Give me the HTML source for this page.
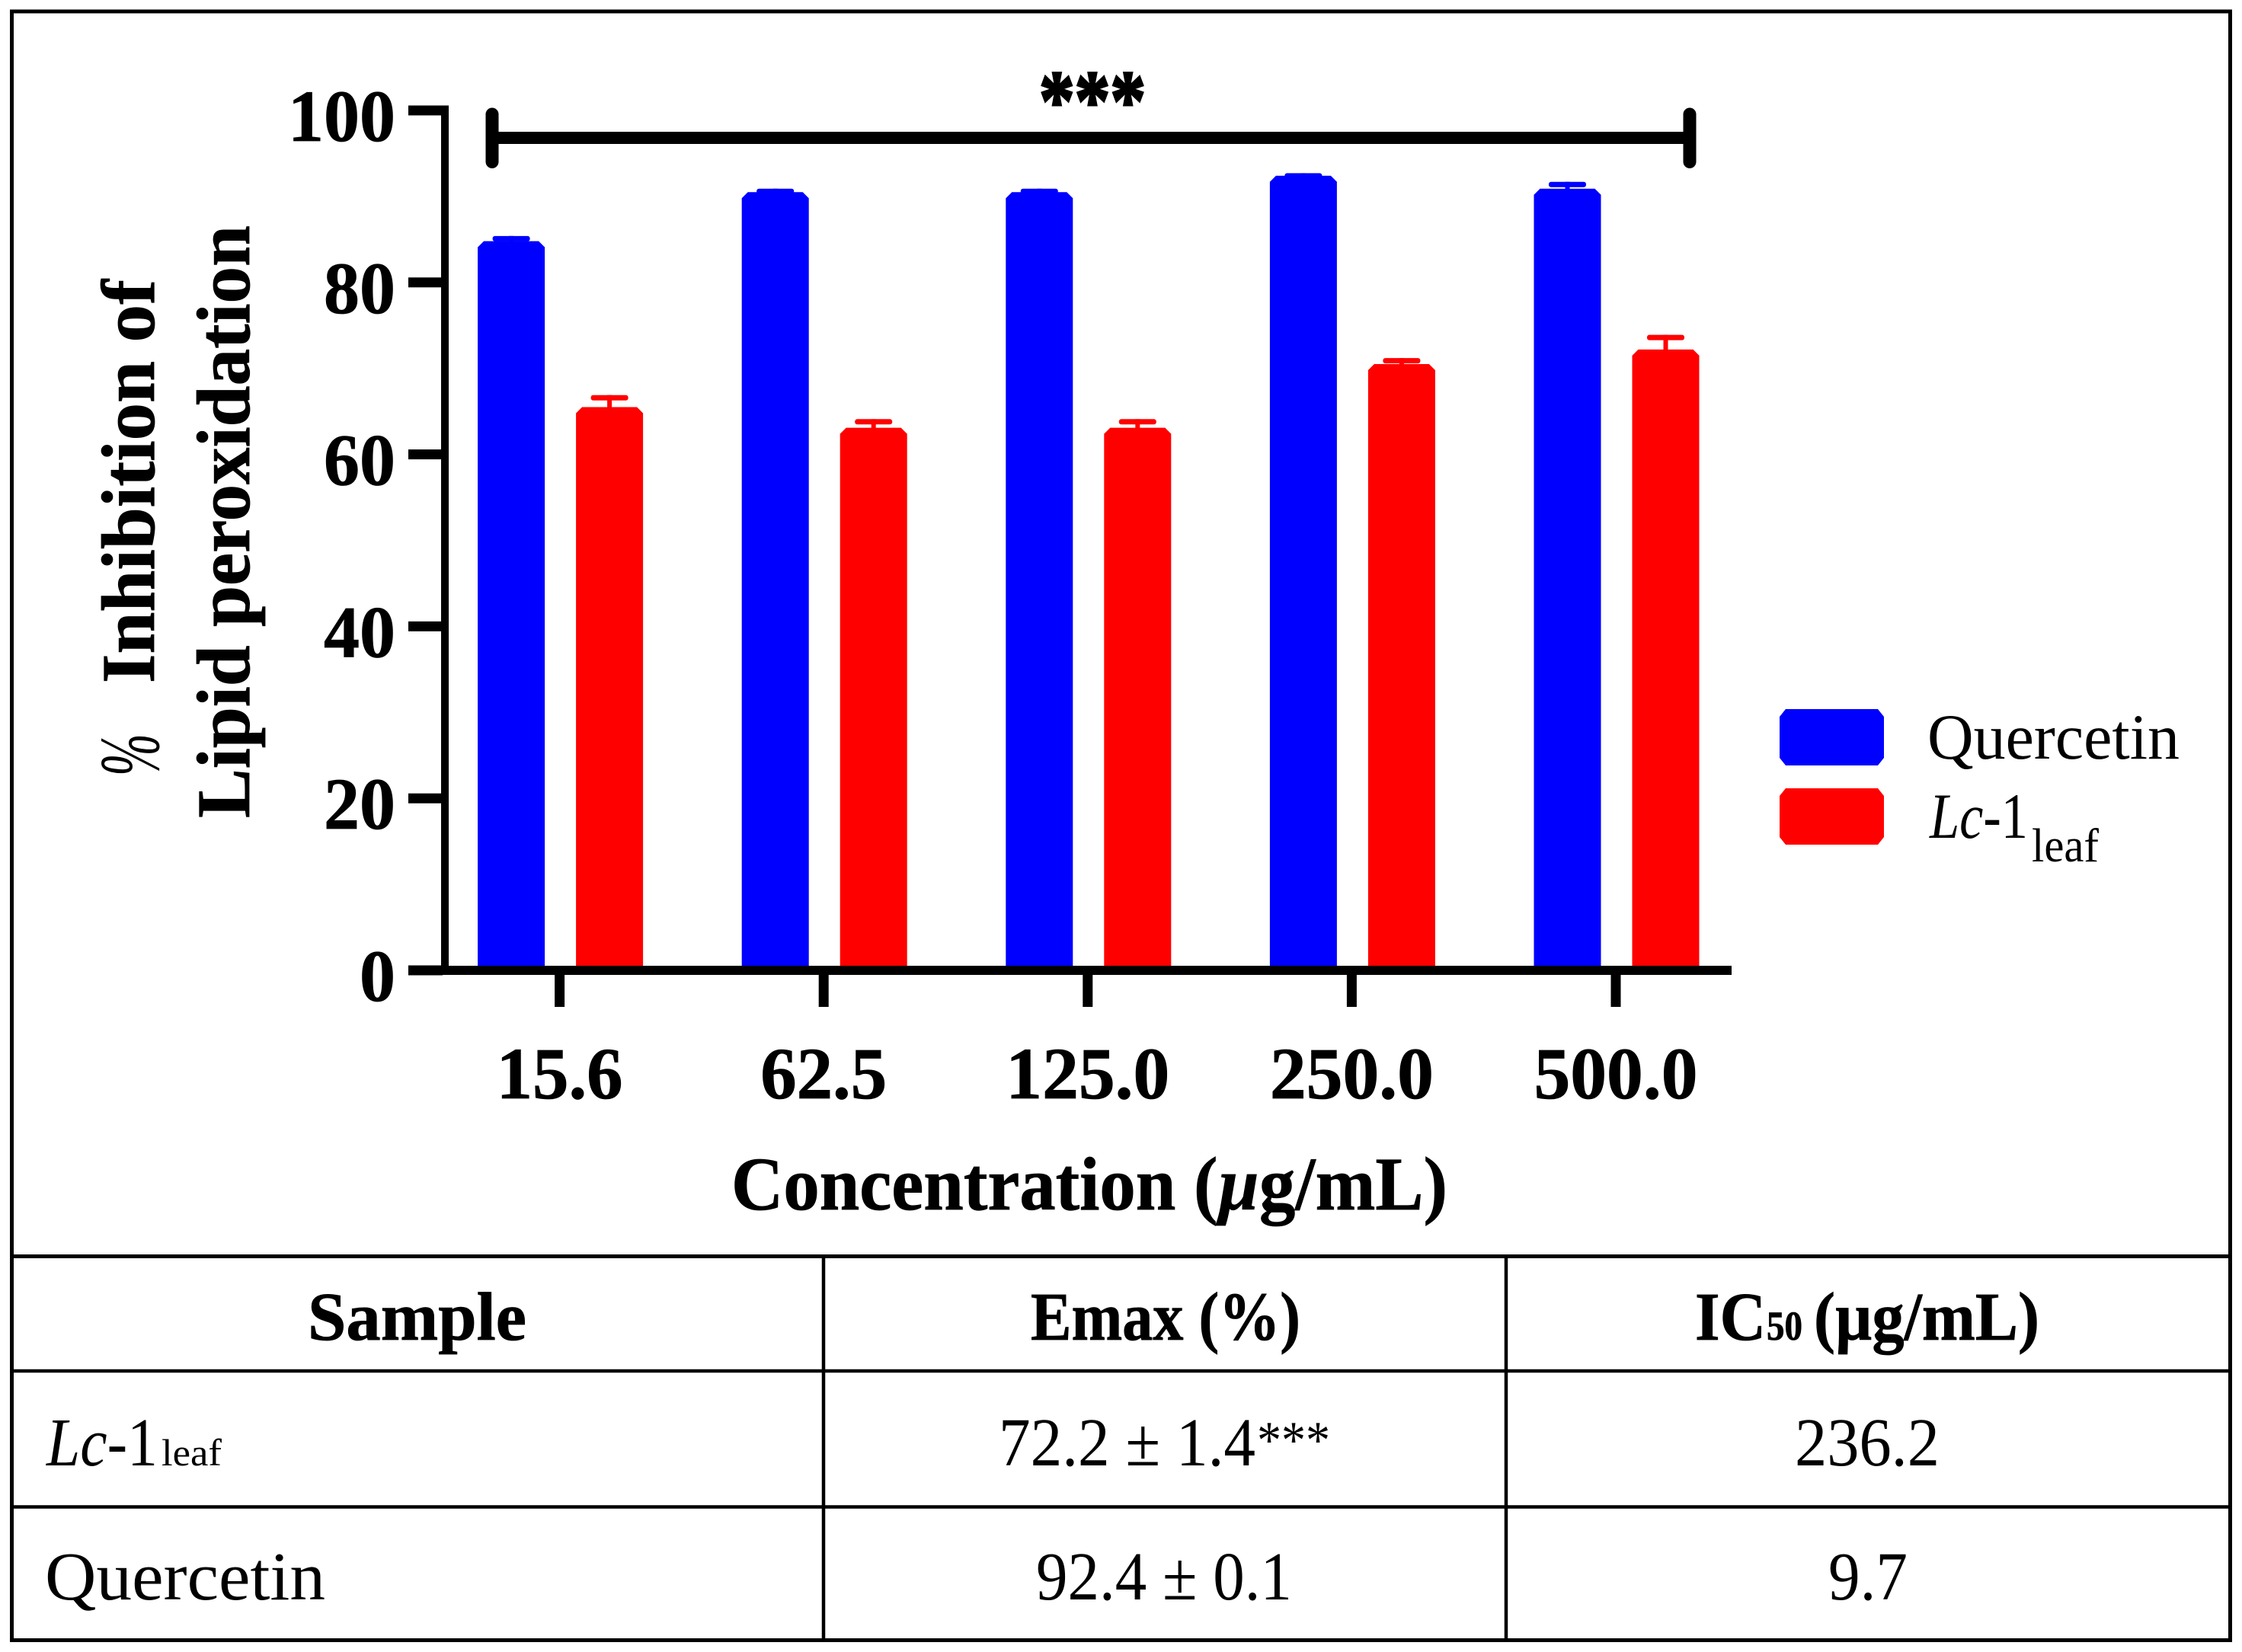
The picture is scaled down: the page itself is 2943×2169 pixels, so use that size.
<!DOCTYPE html>
<html lang="en">
<head>
<meta charset="utf-8">
<title>Inhibition of lipid peroxidation</title>
<style>
html,body{margin:0;padding:0;background:#fff;width:2943px;height:2169px;overflow:hidden}
svg{position:absolute;left:0;top:0;display:block}
text{font-family:"Liberation Serif",serif;fill:#000}
.b{font-weight:bold;stroke:#000;stroke-width:0.8px}
.i{font-style:italic}
</style>
</head>
<body>
<svg id="figure" xmlns="http://www.w3.org/2000/svg" width="2943" height="2169" viewBox="0 0 2943 2169">
  <rect x="0" y="0" width="2943" height="2169" fill="#fff"/>
  <rect x="15.5" y="15" width="2912" height="2138.5" fill="none" stroke="#000" stroke-width="5"/>

  <g id="plot"></g>

  <g>
    <line x1="646" y1="181" x2="2218" y2="181" stroke="#000" stroke-width="16"/>
    <line x1="646" y1="150" x2="646" y2="212.5" stroke="#000" stroke-width="17" stroke-linecap="round"/>
    <line x1="2218" y1="150" x2="2218" y2="212.5" stroke="#000" stroke-width="17" stroke-linecap="round"/>
    <text class="b" x="1364" y="170" font-size="112" textLength="140" lengthAdjust="spacingAndGlyphs" style="stroke-width:3px">***</text>
  </g>

  <text class="i" transform="translate(208 1019) rotate(-90)" font-size="112" textLength="56" lengthAdjust="spacingAndGlyphs">%</text>
  <text class="b" transform="translate(202 897) rotate(-90)" font-size="100" textLength="530" lengthAdjust="spacingAndGlyphs">Inhibition of</text>
  <text class="b" transform="translate(327 1074) rotate(-90)" font-size="100" textLength="778" lengthAdjust="spacingAndGlyphs">Lipid peroxidation</text>

  <text class="b" x="960" y="1588" font-size="100" textLength="940" lengthAdjust="spacingAndGlyphs">Concentration (<tspan class="i">µ</tspan>g/mL)</text>

  <g>
    <path d="M2344 931H2465L2473 941V995L2465 1005H2344L2336 995V941Z" fill="#0000ff"/>
    <text x="2530" y="996" font-size="85" textLength="331" lengthAdjust="spacingAndGlyphs">Quercetin</text>
    <path d="M2344 1035H2465L2473 1045V1099L2465 1109H2344L2336 1099V1045Z" fill="#ff0000"/>
    <text x="2533" y="1100" font-size="85" textLength="129" lengthAdjust="spacingAndGlyphs"><tspan class="i">Lc</tspan>-1</text>
    <text x="2667" y="1131" font-size="62" textLength="88" lengthAdjust="spacingAndGlyphs">leaf</text>
  </g>

  <g>
    <line x1="15" y1="1649.5" x2="2928" y2="1649.5" stroke="#000" stroke-width="5"/>
    <line x1="15" y1="1800" x2="2928" y2="1800" stroke="#000" stroke-width="4.5"/>
    <line x1="15" y1="1978.5" x2="2928" y2="1978.5" stroke="#000" stroke-width="4.5"/>
    <line x1="1081" y1="1650" x2="1081" y2="2153" stroke="#000" stroke-width="4.5"/>
    <line x1="1977" y1="1650" x2="1977" y2="2153" stroke="#000" stroke-width="4.5"/>

    <text class="b" x="404" y="1759" font-size="90" textLength="287" lengthAdjust="spacingAndGlyphs">Sample</text>
    <text class="b" x="1353" y="1759" font-size="90" textLength="354" lengthAdjust="spacingAndGlyphs">Emax (%)</text>
    <text class="b" x="2225" y="1759" font-size="90" textLength="93" lengthAdjust="spacingAndGlyphs">IC</text>
    <text class="b" x="2319" y="1759" font-size="54" textLength="47" lengthAdjust="spacingAndGlyphs">50</text>
    <text class="b" x="2381" y="1759" font-size="90" textLength="296" lengthAdjust="spacingAndGlyphs">(µg/mL)</text>

    <text x="61" y="1924" font-size="90" textLength="146" lengthAdjust="spacingAndGlyphs"><tspan class="i">Lc</tspan>-1</text>
    <text x="212" y="1924" font-size="50" textLength="79" lengthAdjust="spacingAndGlyphs">leaf</text>
    <text x="1311" y="1924" font-size="90" textLength="337" lengthAdjust="spacingAndGlyphs">72.2 ± 1.4</text>
    <text x="1650" y="1914" font-size="70" textLength="96" lengthAdjust="spacingAndGlyphs">***</text>
    <text x="2356" y="1924" font-size="90" textLength="190" lengthAdjust="spacingAndGlyphs">236.2</text>

    <text x="59" y="2100" font-size="90" textLength="368" lengthAdjust="spacingAndGlyphs">Quercetin</text>
    <text x="1360" y="2100" font-size="90" textLength="336" lengthAdjust="spacingAndGlyphs">92.4 ± 0.1</text>
    <text x="2400" y="2100" font-size="90" textLength="104" lengthAdjust="spacingAndGlyphs">9.7</text>
  </g>
</svg>
<script>
const categories = ["15.6", "62.5", "125.0", "250.0", "500.0"];
const quercetinValues = [84.8, 90.5, 90.5, 92.4, 90.9];
const lcLeafValues = [65.5, 63.1, 63.1, 70.5, 72.2];
const quercetinErrors = [0.6, 0.4, 0.4, 0.3, 0.8];
const lcLeafErrors = [1.4, 1.0, 1.0, 0.7, 1.7];
const yTickLabels = ["0", "20", "40", "60", "80", "100"];

const NS = "http://www.w3.org/2000/svg";
const plot = document.getElementById("plot");
const yScale = function (v) { return 1274 - v * 11.29; };
const xScale = function (i) { return 734.6 + i * 346.6; };

function make(tag, attrs, text) {
  const el = document.createElementNS(NS, tag);
  for (const key in attrs) { el.setAttribute(key, attrs[key]); }
  if (text !== undefined) { el.textContent = text; }
  plot.appendChild(el);
  return el;
}

function drawBar(cx, value, err, color, label) {
  const w = 44, top = yScale(value), base = yScale(0), capTop = yScale(value + err);
  const stem = make("rect", { x: cx - 3, y: capTop, width: 6, height: top - capTop + 2, fill: color });
  
  
  const cap = make("rect", { x: cx - 24.5, y: capTop, width: 49, height: 7, rx: 3, fill: color });
  
  
  const d = "M" + (cx - w) + " " + base + "V" + (top + 8) + "L" + (cx - w + 8) + " " + top +
            "H" + (cx + w - 8) + "L" + (cx + w) + " " + (top + 8) + "V" + base + "Z";
  const bar = make("path", { d: d, fill: color });
  
  
}

categories.forEach(function (cat, i) {
  drawBar(xScale(i) - 63.5, quercetinValues[i], quercetinErrors[i], "#0000ff", "bar-quercetin-" + cat);
  drawBar(xScale(i) + 65.5, lcLeafValues[i], lcLeafErrors[i], "#ff0000", "bar-lc1-leaf-" + cat);

  const tick = make("rect", { x: xScale(i) - 6.5, y: 1280, width: 13, height: 42, fill: "#000" });
  
  

  const label = make("text", {
    x: xScale(i), y: 1442, "font-size": 96, "font-weight": "bold", "text-anchor": "middle",
    stroke: "#000", "stroke-width": 0.8,
    textLength: cat.length === 4 ? 166 : 215, lengthAdjust: "spacingAndGlyphs"
  }, cat);
  
  
});

yTickLabels.forEach(function (t) {
  const v = Number(t);
  const tick = make("rect", { x: 536, y: yScale(v) - 6.5, width: 45, height: 13, fill: "#000" });
  
  

  const label = make("text", {
    x: 519, y: yScale(v) + 40, "font-size": 96, "font-weight": "bold", "text-anchor": "end",
    stroke: "#000", "stroke-width": 0.8,
    textLength: t.length * 47, lengthAdjust: "spacingAndGlyphs"
  }, t);
  
  
});

const yAxis = make("rect", { x: 579, y: yScale(100) - 6.5, width: 10, height: yScale(0) - yScale(100) + 12.5, fill: "#000" });



const xAxis = make("rect", { x: 536, y: yScale(0) - 6, width: 1737, height: 12, fill: "#000" });


</script>
</body>
</html>
